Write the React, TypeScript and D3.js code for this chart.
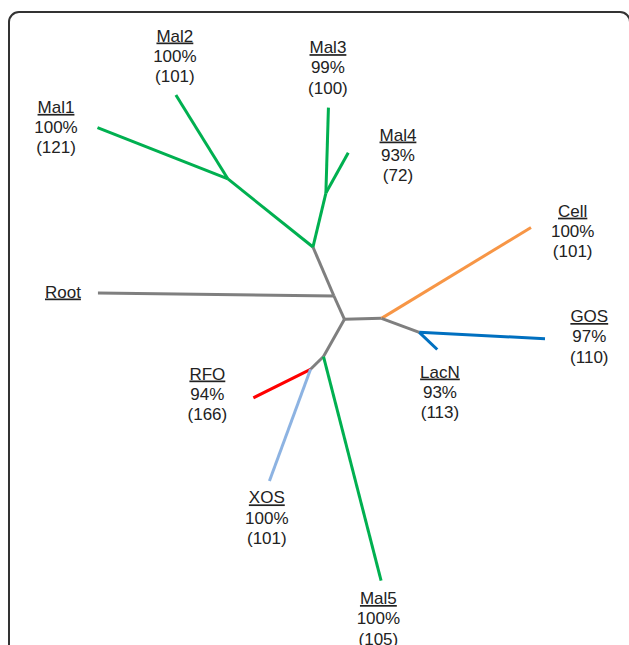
import React from "react";
import * as d3 from "d3";

// Unrooted tree: branches from the central node "A" outwards.
// length in substitution-like units, angle in degrees (0 = right, 90 = up)
const edgeFrom = ["A", "R", "R", "J", "M12", "M12", "J", "M34", "M34", "A", "B", "B", "C", "C", "A", "D", "D", "E", "E"];
const edgeTo = ["R", "J", "Root", "M12", "Mal1", "Mal2", "M34", "Mal3", "Mal4", "B", "Cell", "C", "GOS", "LacN", "D", "E", "Mal5", "RFO", "XOS"];
const edgeLength = [0.0256, 0.0533, 0.236, 0.1089, 0.1402, 0.0988, 0.0555, 0.0855, 0.0461, 0.037, 0.175, 0.0403, 0.1259, 0.0249, 0.0427, 0.0182, 0.2315, 0.0639, 0.1191];
const edgeAngle = [114.3, 113.2, 179.3, 141.3, 158.5, 121.8, 76.5, 88.3, 61.0, 1.5, 31.3, -20.3, -2.9, -43.7, -119.4, -135.4, -75.6, -153.5, -110.2];
const edgeGroup = ["core", "core", "core", "Mal", "Mal", "Mal", "Mal", "Mal", "Mal", "core", "Cell", "core", "GOS", "GOS", "core", "core", "Mal", "RFO", "XOS"];

const tipNames = ["Mal1", "Mal2", "Mal3", "Mal4", "Cell", "GOS", "LacN", "RFO", "XOS", "Mal5", "Root"];
const tipSupport = ["100%", "100%", "99%", "93%", "100%", "97%", "93%", "94%", "100%", "100%", ""];
const tipCount = ["(121)", "(101)", "(100)", "(72)", "(101)", "(110)", "(113)", "(166)", "(101)", "(105)", ""];

const groupColor: Record<string, string> = {
  core: "#7f7f7f",
  Mal: "#00b050",
  Cell: "#f79646",
  GOS: "#0070c0",
  RFO: "#ff0000",
  XOS: "#8db3e2",
};

// label anchor offset from the tip (px)
const labelOffset: Record<string, [number, number]> = {
  Mal1: [-41.5, -14.7],
  Mal2: [-1, -53.5],
  Mal3: [-0.5, -54.5],
  Mal4: [49.7, -12.2],
  Cell: [41.7, -10.8],
  GOS: [44.3, -16.7],
  LacN: [2.7, 28],
  RFO: [-46, -18.3],
  XOS: [-2.6, 22.3],
  Mal5: [-2.7, 23.3],
  Root: [-35, 4.4],
};

const W = 629;
const H = 645;

const App: React.FC = () => {
  // walk the tree from the centre node
  const pos: Record<string, [number, number]> = { A: [0, 0] };
  edgeTo.forEach((to, i) => {
    const p = pos[edgeFrom[i]];
    const a = (edgeAngle[i] * Math.PI) / 180;
    pos[to] = [p[0] + edgeLength[i] * Math.cos(a), p[1] + edgeLength[i] * Math.sin(a)];
  });

  const xs = Object.values(pos).map(d => d[0]);
  const ys = Object.values(pos).map(d => d[1]);
  const x = d3.scaleLinear().domain(d3.extent(xs) as [number, number]).range([97.5, 545]);
  const y = d3.scaleLinear().domain(d3.extent(ys) as [number, number]).range([580.7, 95]);

  const line = d3.line<[number, number]>().x(d => x(d[0])).y(d => y(d[1]));

  const lineGap = 20.3;
  const font = "'Liberation Sans', Arial, sans-serif";

  return (
    <svg width={W} height={H} style={{ position: "absolute", left: 0, top: 0 }}>
      <rect x={9} y={12} width={621} height={700} rx={10} fill="none" stroke="#333" strokeWidth={2} />

      {/* branches */}
      <g fill="none" strokeWidth={3}>
        {edgeTo.map((to, i) => (
          <path key={to} d={line([pos[edgeFrom[i]], pos[to]]) ?? ""} stroke={groupColor[edgeGroup[i]]} />
        ))}
      </g>

      {/* tip labels */}
      <g fontFamily={font} fontSize={17} fill="#222" textAnchor="middle">
        {tipNames.map((name, i) => {
          const [dx, dy] = labelOffset[name];
          const lx = x(pos[name][0]) + dx;
          const ly = y(pos[name][1]) + dy;
          return (
            <g key={name}>
              <text x={lx} y={ly} style={{ textDecoration: "underline" }}>{name}</text>
              {tipSupport[i] && <text x={lx} y={ly + lineGap}>{tipSupport[i]}</text>}
              {tipCount[i] && <text x={lx} y={ly + 2 * lineGap}>{tipCount[i]}</text>}
            </g>
          );
        })}
      </g>
    </svg>
  );
};

export default App;
